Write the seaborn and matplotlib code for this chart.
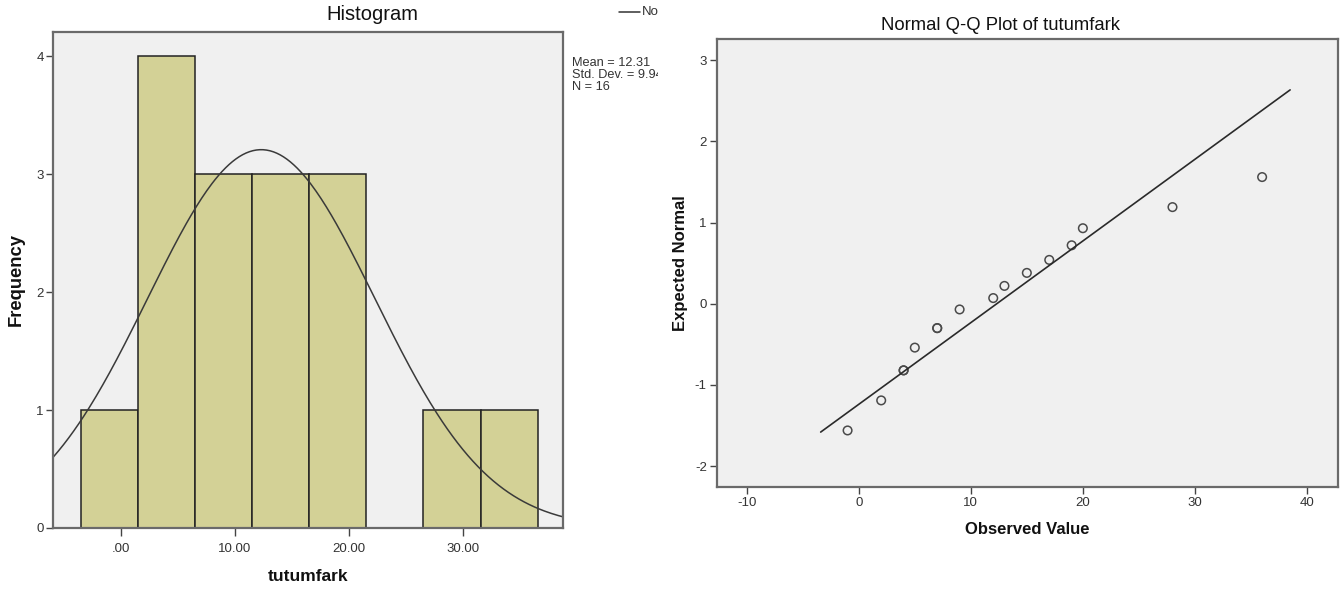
import numpy as np
import matplotlib
matplotlib.use('Agg')
import matplotlib.pyplot as plt
import seaborn as sns
from matplotlib.transforms import Bbox, TransformedBbox

# tutumfark values (x positions of the circles)
observed = [-1, 2, 4, 4, 5, 7, 7, 9, 12, 13, 15, 17, 19, 20, 28, 36]
# expected normal values (y positions of the circles)
expected = [-1.56, -1.19, -0.82, -0.82, -0.54, -0.30, -0.30, -0.07,
            0.07, 0.22, 0.38, 0.54, 0.72, 0.93, 1.19, 1.56]
bin_edges = [-3.5, 1.5, 6.5, 11.5, 16.5, 21.5, 26.5, 31.5, 36.5]
hist_xticks = [0, 10, 20, 30]
hist_xticklabels = ['.00', '10.00', '20.00', '30.00']
qq_xticks = [-10, 0, 10, 20, 30, 40]
qq_yticks = [-2, -1, 0, 1, 2, 3]
qq_line_x = [-3.4, 38.5]

mean = np.mean(observed)
sd = np.std(observed, ddof=1)
n = len(observed)

sns.set_style('white')
plt.rcParams['font.family'] = ['Liberation Sans', 'DejaVu Sans']

W, H = 1343, 590
fig = plt.figure(figsize=(W / 100, H / 100), dpi=100)

def px_axes(l, t, r, b):
    return fig.add_axes([l / W, 1 - b / H, (r - l) / W, (b - t) / H])

bg = '#f0f0f0'
spine_c = '#6a6a6a'
txt_c = '#333333'

# ---- histogram ----
ax1 = px_axes(53.3, 31.7, 563.3, 528)
ax1.set_facecolor(bg)
sns.histplot(x=observed, bins=bin_edges, color='#d3d196', alpha=1,
             edgecolor='#222222', linewidth=1.1, ax=ax1)
bw = bin_edges[1] - bin_edges[0]
xs = np.linspace(-5.88, 38.74, 300)
curve = n * bw * np.exp(-0.5 * ((xs - mean) / sd) ** 2) / (sd * np.sqrt(2 * np.pi))
ax1.plot(xs, curve, color='#3a3a3a', lw=1.1)
ax1.set_xlim(-5.88, 38.74)
ax1.set_ylim(0, 4.21)
ax1.set_xticks(hist_xticks)
ax1.set_xticklabels(hist_xticklabels)
ax1.set_yticks([0, 1, 2, 3, 4])
ax1.set_xlabel('tutumfark', fontsize=12.5, fontweight='bold', labelpad=10)
ax1.set_ylabel('Frequency', fontsize=13.2, fontweight='bold', labelpad=8)

# ---- Q-Q plot ----
ax2 = px_axes(716.5, 39, 1338.3, 487.3)
ax2.set_facecolor(bg)
ax2.plot(qq_line_x, [(v - mean) / sd for v in qq_line_x], color='#2a2a2a', lw=1.2)
sns.scatterplot(x=observed, y=expected, ax=ax2, s=38, facecolor='none',
                edgecolor='#4a4a4a', linewidth=1.1, marker='o')
ax2.set_xlim(-12.7, 42.8)
ax2.set_ylim(-2.26, 3.26)
ax2.set_xticks(qq_xticks)
ax2.set_yticks(qq_yticks)
ax2.set_xticklabels([str(v) for v in qq_xticks])
ax2.set_yticklabels([str(v) for v in qq_yticks])
ax2.set_xlabel('Observed Value', fontsize=12, fontweight='bold', labelpad=9)
ax2.set_ylabel('Expected Normal', fontsize=12, fontweight='bold', labelpad=5)

for ax in (ax1, ax2):
    for s in ax.spines.values():
        s.set_color(spine_c)
        s.set_linewidth(1.6)
    ax.tick_params(axis='both', direction='out', length=5, width=1,
                   color='#444444', labelsize=9.5, labelcolor=txt_c, pad=2,
                   bottom=True, left=True)
    ax.xaxis.label.set_color('#111111')
    ax.yaxis.label.set_color('#111111')
ax1.tick_params(axis='x', length=6, pad=5)

# titles
fig.text(372 / W, 1 - 15 / H, 'Histogram', ha='center', va='center',
         fontsize=14.5, color='#111111')
fig.text(1000 / W, 1 - 25 / H, 'Normal Q-Q Plot of tutumfark', ha='center',
         va='center', fontsize=13.3, color='#111111')

# clipped side information of the histogram panel
clip = TransformedBbox(Bbox([[0, 0], [658 / W, 1]]), fig.transFigure)
stats = fig.text(571.7 / W, 1 - 57 / H,
                 'Mean = 12.31\nStd. Dev. = 9.945\nN = 16',
                 ha='left', va='top', fontsize=9.2, color=txt_c,
                 linespacing=1.02)
stats.set_clip_box(clip)
stats.set_clip_on(True)
fig.add_artist(plt.Line2D([619 / W, 640 / W], [1 - 11.7 / H, 1 - 11.7 / H],
                          transform=fig.transFigure, color='#333333', lw=1.1))
leg = fig.text(642 / W, 1 - 11.7 / H, 'Normal', ha='left', va='center',
               fontsize=9.5, color=txt_c)
leg.set_clip_box(clip)
leg.set_clip_on(True)

fig.savefig('out.png', dpi=100, facecolor='white')
